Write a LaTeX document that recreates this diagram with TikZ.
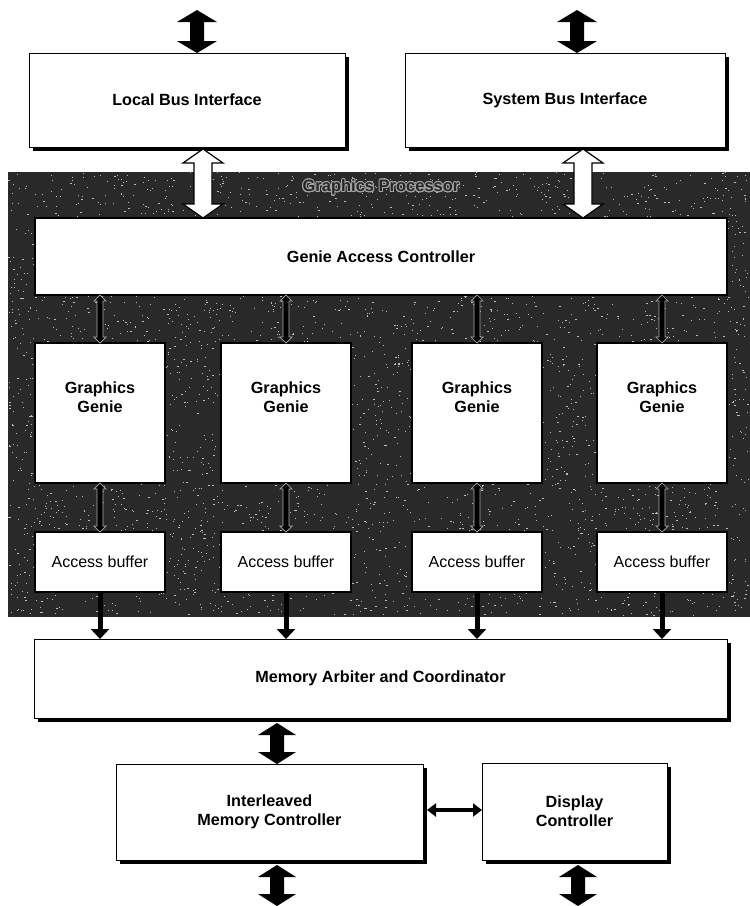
\documentclass[tikz,border=0pt]{standalone}
\usepackage{fontspec}
\setmainfont{Liberation Sans}
\usepackage[copies]{contour}
\usetikzlibrary{arrows.meta,shadows,calc}

% Vertical double-headed block arrow: style, upper point, lower point,
% shaft half-width, head half-width, head length (x is taken from the upper point)
\newcommand{\dblarrow}[6]{%
  \path[#1] let \p1=#2, \p2=#3 in
    (\x1,\y1) -- (\x1+#5,\y1-#6) -- (\x1+#4,\y1-#6) -- (\x1+#4,\y2+#6)
    -- (\x1+#5,\y2+#6) -- (\x1,\y2) -- (\x1-#5,\y2+#6) -- (\x1-#4,\y2+#6)
    -- (\x1-#4,\y1-#6) -- (\x1-#5,\y1-#6) -- cycle;}

\contourlength{0.9pt}

\tikzset{
  lbl/.style={font=\fontsize{16.2}{19}\selectfont\bfseries, align=center},
  outbox/.style={lbl, draw=black, line width=1pt, fill=white, inner sep=0pt, outer sep=0pt,
    drop shadow={shadow xshift=3.5pt, shadow yshift=-4pt, fill=black, opacity=1}},
  inbox/.style={lbl, draw=black, line width=2.4pt, fill=white, inner sep=0pt, outer sep=0pt},
  geniebox/.style={inbox, minimum width=130pt, minimum height=140pt},
  bufbox/.style={inbox, minimum width=130pt, minimum height=60pt,
    font=\fontsize{16}{19}\selectfont},
  solidarrow/.style={fill=black},
  hollowarrow/.style={fill=white, draw=black, line width=1.2pt, line join=miter},
  linkarrow/.style={fill=black, draw=gray!65, line width=0.7pt},
  downarrow/.style={draw=black, line width=5pt, -{Triangle[length=10pt,width=18pt]}},
}

\begin{document}
\begin{tikzpicture}[x=1pt, y=-1pt]
\useasboundingbox (0,0) rectangle (750,906);

% ---- Graphics processor backdrop (dark speckled panel) ----
\fill[black!84] (8,172) rectangle (750,617);
\pgfmathsetseed{1907}
\foreach \i in {1,...,4200}{
  \fill[gray!50] ({8+740*rnd},{172+443*rnd}) rectangle ++(1.2,0.9);
}
\node[font=\fontsize{16.5}{19}\selectfont\bfseries] (gplabel) at (381,188)
  {\contour{gray!70}{\textcolor{black!85}{Graphics Processor}}};

% ---- bus interfaces ----
\node[outbox, minimum width=316pt, minimum height=94pt] (lbi) at (187,100) {Local Bus Interface};
\node[outbox, minimum width=320pt, minimum height=94pt] (sbi) at (565,100) {System Bus Interface};

% ---- processor blocks ----
\node[inbox, minimum width=692pt, minimum height=77pt] (gac) at (381,256.5) {Genie Access Controller};

\foreach \k/\cx in {1/100, 2/286, 3/477, 4/662}{
  \node[geniebox, label={[lbl, anchor=north, yshift=-35pt]north:Graphics\\Genie}] (g\k) at (\cx,413) {};
  \node[bufbox] (ab\k) at (\cx,562) {Access buffer};
  \coordinate (gin\k) at (gac.south -| g\k.north);
}

% ---- memory side ----
\node[outbox, minimum width=693pt, minimum height=79pt] (arb) at (380.5,678.5) {Memory Arbiter and Coordinator};
\node[outbox, minimum width=307pt, minimum height=96pt] (imc) at (269.5,812) {Interleaved\\Memory Controller};
\node[outbox, minimum width=185pt, minimum height=97pt] (dc) at (574.5,811.5) {Display\\Controller};

% ---- port coordinates ----
\coordinate (lbiTop)  at (197,10);
\coordinate (sbiTop)  at (577,10);
\coordinate (lbiPort) at (203,149);
\coordinate (sbiPort) at (583,149);
\coordinate (arbPort) at (277,723);
\coordinate (imcPort) at (277,865);
\coordinate (imcOut)  at (277,906);
\coordinate (dcPort)  at (578,865);
\coordinate (dcOut)   at (578,906);
\coordinate (imcSide) at (427,810);

% ---- external buses ----
\dblarrow{solidarrow}{(lbiTop)}{(lbi.north)}{7pt}{20pt}{12pt}
\dblarrow{solidarrow}{(sbiTop)}{(sbi.north)}{7pt}{20pt}{12pt}
\dblarrow{hollowarrow}{(lbiPort)}{(gac.north)}{9pt}{20pt}{14pt}
\dblarrow{hollowarrow}{(sbiPort)}{(gac.north)}{9pt}{20pt}{14pt}

% ---- links inside the processor ----
\foreach \k in {1,2,3,4}{
  \dblarrow{linkarrow}{(gin\k)}{(g\k.north)}{3pt}{6pt}{6pt}
  \dblarrow{linkarrow}{(g\k.south)}{(ab\k.north)}{3pt}{6pt}{6pt}
  \draw[downarrow] (ab\k.south) -- (ab\k.south |- arb.north);
}

% ---- memory buses ----
\dblarrow{solidarrow}{(arbPort)}{(imc.north)}{7pt}{19pt}{12pt}
\dblarrow{solidarrow}{(imcPort)}{(imcOut)}{7pt}{19pt}{12pt}
\dblarrow{solidarrow}{(dcPort)}{(dcOut)}{7pt}{19pt}{12pt}
\draw[line width=3.5pt, {Triangle[length=9pt,width=13pt]}-{Triangle[length=9pt,width=13pt]}]
  (imcSide) -- (imcSide -| dc.west);
\end{tikzpicture}
\end{document}
